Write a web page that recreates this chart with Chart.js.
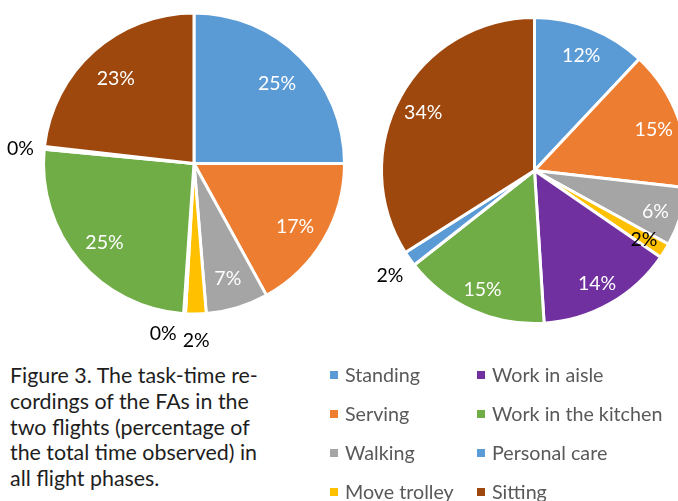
<!DOCTYPE html>
<html lang="en">
<head>
  <meta charset="UTF-8">
  <title>Task-time recordings</title>
  <style>
    body {
      margin: 0;
      width: 678px;
      height: 501px;
      overflow: hidden;
      position: relative;
      background: #fff;
      font-family: Lato, "Open Sans", sans-serif;
    }
    #pie1 { position: absolute; left: 0; top: 0; }
    #pie2 { position: absolute; left: 360px; top: 0; }
    .caption {
      position: absolute;
      left: 10px;
      top: 363px;
      font-size: 21.4px;
      line-height: 25.8px;
      color: #1e1e1e;
      white-space: nowrap;
    }
    .legend {
      position: absolute;
      left: 330px;
      top: 355px;
      display: grid;
      grid-auto-flow: column;
      grid-template-rows: repeat(4, 39px);
      grid-template-columns: 147px auto;
      font-size: 19.7px;
      color: #595959;
    }
    .legend div {
      display: flex;
      align-items: center;
      white-space: nowrap;
    }
    .legend span {
      display: inline-block;
      width: 8px;
      height: 8px;
      margin-right: 7px;
    }
  </style>
</head>
<body>
  <canvas id="pie1" width="390" height="360"></canvas>
  <canvas id="pie2" width="360" height="360"></canvas>

  <div class="caption">
    Figure 3. The task-time re-<br>
    cordings of the FAs in the<br>
    two flights (percentage of<br>
    the total time observed) in<br>
    all flight phases.
  </div>
  <div class="legend" id="legend"></div>

  <script src="https://cdn.jsdelivr.net/npm/chart.js"></script>
  <script>
    // task categories (legend order = slice order, clockwise from the top)
    const tasks = ['Standing', 'Serving', 'Walking', 'Move trolley', 'Work in aisle',
                   'Work in the kitchen', 'Personal care', 'Sitting'];
    const taskColors = ['#5B9BD5', '#ED7D31', '#A5A5A5', '#FFC000', '#7030A0',
                        '#70AD47', '#5B9BD5', '#9E480E'];

    const flight1 = [25.0, 17.0, 6.7, 2.2, 0.2, 25.4, 0.3, 23.2];
    const flight2 = [12.0, 14.8, 6.2, 1.6, 14.4, 15.4, 1.6, 34.0];

    // draws the percent labels: white inside big slices, black outside small ones
    const pieLabels = {
      id: 'pieLabels',
      afterDatasetsDraw(chart, args, opts) {
        const ctx = chart.ctx;
        const meta = chart.getDatasetMeta(0);
        const vals = chart.data.datasets[0].data;
        const placed = [];
        ctx.save();
        ctx.font = '19.5px Lato, "Open Sans", sans-serif';
        ctx.textAlign = 'center';
        ctx.textBaseline = 'middle';
        meta.data.forEach((arc, i) => {
          const p = arc.getProps(['x', 'y', 'startAngle', 'endAngle', 'outerRadius'], true);
          const mid = (p.startAngle + p.endAngle) / 2;
          const txt = Math.round(vals[i]) + '%';
          const w = ctx.measureText(txt).width;
          let color = '#fff';
          let r = p.outerRadius * opts.inner;
          if (vals[i] < 3) {
            color = '#000';
            r = p.outerRadius + 24;
          }
          let x = p.x + Math.cos(mid) * r;
          let y = p.y + Math.sin(mid) * r + 3;
          if (vals[i] < 3 && x + w / 2 > opts.maxX) {
            // no room outside, keep it just inside the rim
            r = p.outerRadius * 0.84;
            x = p.x + Math.cos(mid) * r;
            y = p.y + Math.sin(mid) * r + 2;
          } else if (vals[i] < 3) {
            // push away from labels already placed outside
            placed.forEach(q => {
              if (Math.abs(q.x - x) < (q.w + w) / 2 + 4 && Math.abs(q.y - y) < 18) {
                x = q.x - (q.w + w) / 2 - 6;
                y -= 7;
              }
            });
            placed.push({ x, y, w });
          }
          ctx.fillStyle = color;
          ctx.fillText(txt, x, y);
        });
        ctx.restore();
      }
    };

    function makePie(id, values, padding, inner, maxX) {
      new Chart(document.getElementById(id), {
        type: 'pie',
        data: {
          labels: tasks,
          datasets: [{
            data: values,
            backgroundColor: taskColors,
            borderColor: '#fff',
            borderWidth: 3
          }]
        },
        options: {
          responsive: false,
          animation: false,
          layout: { padding: padding },
          plugins: {
            legend: { display: false },
            tooltip: { enabled: false },
            pieLabels: { inner: inner, maxX: maxX }
          }
        },
        plugins: [pieLabels]
      });
    }

    makePie('pie1', flight1, { left: 42, right: 44, top: 11, bottom: 44 }, 0.78, 9999);
    makePie('pie2', flight2, { left: 20, right: 31, top: 15, bottom: 34 }, 0.83, 318);

    // html legend
    const legend = document.getElementById('legend');
    tasks.forEach((t, i) => {
      const d = document.createElement('div');
      d.innerHTML = '<span style="background:' + taskColors[i] + '"></span>' + t;
      legend.appendChild(d);
    });
  </script>
</body>
</html>
